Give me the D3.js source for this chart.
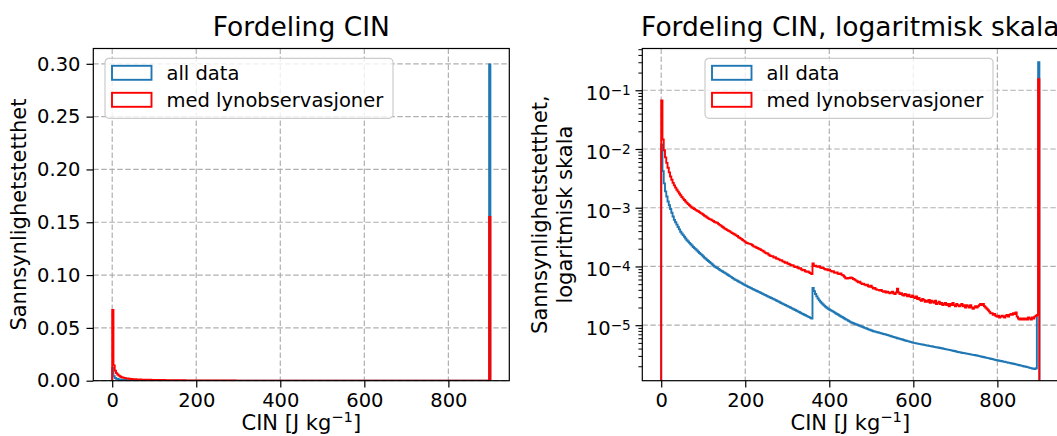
<!DOCTYPE html>
<html>
<head>
<meta charset="utf-8">
<script src="https://cdn.jsdelivr.net/npm/d3@7"></script>
<style>
  body { margin: 0; background: #fff; }
  svg { display: block; }
  text { font-family: "DejaVu Sans", sans-serif; fill: #000; }
</style>
</head>
<body>
<svg width="1057" height="436"></svg>
<script>

// Histogram bins: width 3 J/kg, from 0 to 900
var binWidth = 3;

// density, all data (one value per bin)
var allData = [
  1.2e-2, 4.2e-3, 2.6e-3, 1.9e-3, 1.55e-3, 1.28e-3, 1.1e-3, 9.5e-4, 8.2e-4, 7.1e-4,
  6.2e-4, 5.65e-4, 5.15e-4, 4.7e-4, 4.28e-4, 3.9e-4, 3.65e-4, 3.42e-4, 3.2e-4, 2.99e-4,
  2.8e-4, 2.66e-4, 2.52e-4, 2.39e-4, 2.27e-4, 2.15e-4, 2.05e-4, 1.96e-4, 1.87e-4, 1.78e-4,
  1.7e-4, 1.62e-4, 1.55e-4, 1.48e-4, 1.41e-4, 1.35e-4, 1.29e-4, 1.24e-4, 1.19e-4, 1.14e-4,
  1.09e-4, 1.04e-4, 1.0e-4, 9.7e-5, 9.4e-5, 9.1e-5, 8.8e-5, 8.5e-5, 8.3e-5, 8.0e-5,
  7.8e-5, 7.55e-5, 7.3e-5, 7.1e-5, 6.85e-5, 6.65e-5, 6.4e-5, 6.2e-5, 6.0e-5, 5.85e-5,
  5.7e-5, 5.55e-5, 5.4e-5, 5.25e-5, 5.1e-5, 4.95e-5, 4.82e-5, 4.7e-5, 4.58e-5, 4.47e-5,
  4.37e-5, 4.26e-5, 4.16e-5, 4.06e-5, 3.96e-5, 3.87e-5, 3.78e-5, 3.69e-5, 3.6e-5, 3.51e-5,
  3.43e-5, 3.35e-5, 3.27e-5, 3.19e-5, 3.11e-5, 3.04e-5, 2.97e-5, 2.9e-5, 2.83e-5, 2.76e-5,
  2.7e-5, 2.63e-5, 2.57e-5, 2.5e-5, 2.44e-5, 2.38e-5, 2.32e-5, 2.26e-5, 2.21e-5, 2.15e-5,
  2.1e-5, 2.05e-5, 2.0e-5, 1.95e-5, 1.9e-5, 1.85e-5, 1.81e-5, 1.76e-5, 1.72e-5, 1.68e-5,
  1.63e-5, 1.59e-5, 1.55e-5, 1.51e-5, 1.48e-5, 1.44e-5, 1.4e-5, 1.37e-5, 1.33e-5, 1.3e-5,
  4.3e-5, 3.8e-5, 3.4e-5, 3.1e-5, 2.85e-5, 2.65e-5, 2.5e-5, 2.37e-5, 2.25e-5, 2.15e-5,
  2.06e-5, 1.98e-5, 1.91e-5, 1.85e-5, 1.8e-5, 1.75e-5, 1.7e-5, 1.65e-5, 1.6e-5, 1.55e-5,
  1.51e-5, 1.46e-5, 1.42e-5, 1.38e-5, 1.34e-5, 1.3e-5, 1.26e-5, 1.23e-5, 1.19e-5, 1.16e-5,
  1.12e-5, 1.1e-5, 1.08e-5, 1.06e-5, 1.04e-5, 1.02e-5, 1.0e-5, 9.8e-6, 9.6e-6, 9.4e-6,
  9.2e-6, 9.0e-6, 8.85e-6, 8.7e-6, 8.5e-6, 8.35e-6, 8.2e-6, 8.05e-6, 7.9e-6, 7.8e-6,
  7.7e-6, 7.6e-6, 7.5e-6, 7.4e-6, 7.3e-6, 7.2e-6, 7.1e-6, 7.0e-6, 6.9e-6, 6.8e-6,
  6.7e-6, 6.6e-6, 6.5e-6, 6.4e-6, 6.3e-6, 6.2e-6, 6.1e-6, 6.0e-6, 5.95e-6, 5.85e-6,
  5.75e-6, 5.7e-6, 5.6e-6, 5.5e-6, 5.45e-6, 5.35e-6, 5.3e-6, 5.2e-6, 5.15e-6, 5.05e-6,
  5.0e-6, 4.95e-6, 4.9e-6, 4.85e-6, 4.8e-6, 4.76e-6, 4.72e-6, 4.68e-6, 4.63e-6, 4.58e-6,
  4.54e-6, 4.5e-6, 4.45e-6, 4.41e-6, 4.37e-6, 4.33e-6, 4.28e-6, 4.24e-6, 4.2e-6, 4.16e-6,
  4.12e-6, 4.08e-6, 4.04e-6, 4.0e-6, 3.96e-6, 3.92e-6, 3.88e-6, 3.84e-6, 3.8e-6, 3.76e-6,
  3.72e-6, 3.68e-6, 3.64e-6, 3.6e-6, 3.55e-6, 3.5e-6, 3.47e-6, 3.44e-6, 3.4e-6, 3.37e-6,
  3.34e-6, 3.31e-6, 3.28e-6, 3.25e-6, 3.22e-6, 3.19e-6, 3.16e-6, 3.13e-6, 3.1e-6, 3.07e-6,
  3.04e-6, 3.0e-6, 2.97e-6, 2.94e-6, 2.91e-6, 2.88e-6, 2.84e-6, 2.81e-6, 2.78e-6, 2.75e-6,
  2.72e-6, 2.68e-6, 2.65e-6, 2.62e-6, 2.59e-6, 2.56e-6, 2.53e-6, 2.5e-6, 2.48e-6, 2.45e-6,
  2.43e-6, 2.4e-6, 2.38e-6, 2.35e-6, 2.33e-6, 2.3e-6, 2.28e-6, 2.25e-6, 2.23e-6, 2.2e-6,
  2.18e-6, 2.15e-6, 2.13e-6, 2.1e-6, 2.08e-6, 2.05e-6, 2.03e-6, 2.0e-6, 1.98e-6, 1.96e-6,
  1.93e-6, 1.91e-6, 1.88e-6, 1.86e-6, 1.83e-6, 1.81e-6, 1.8e-6, 1.85e-6, 1.5e-5, 0.2995
];

// density, cases with lightning observations
var medLyn = [
  0.067, 1.45e-2, 9.5e-3, 7.2e-3, 5.8e-3, 4.8e-3, 4.0e-3, 3.4e-3, 3.0e-3, 2.65e-3,
  2.4e-3, 2.2e-3, 2.02e-3, 1.88e-3, 1.75e-3, 1.63e-3, 1.52e-3, 1.43e-3, 1.35e-3, 1.28e-3,
  1.21e-3, 1.15e-3, 1.1e-3, 1.05e-3, 1.01e-3, 9.8e-4, 9.5e-4, 9.2e-4, 8.9e-4, 8.7e-4,
  8.4e-4, 8.1e-4, 7.9e-4, 7.6e-4, 7.3e-4, 7.1e-4, 6.8e-4, 6.6e-4, 6.4e-4, 6.3e-4,
  6.1e-4, 5.95e-4, 5.7e-4, 5.6e-4, 5.55e-4, 5.3e-4, 5.1e-4, 4.95e-4, 4.75e-4, 4.6e-4,
  4.4e-4, 4.3e-4, 4.15e-4, 4.05e-4, 3.95e-4, 3.8e-4, 3.7e-4, 3.6e-4, 3.5e-4, 3.38e-4,
  3.3e-4, 3.15e-4, 3.05e-4, 2.95e-4, 2.85e-4, 2.75e-4, 2.65e-4, 2.55e-4, 2.5e-4, 2.45e-4,
  2.42e-4, 2.38e-4, 2.3e-4, 2.2e-4, 2.16e-4, 2.1e-4, 2.06e-4, 2.0e-4, 1.96e-4, 1.9e-4,
  1.86e-4, 1.8e-4, 1.72e-4, 1.68e-4, 1.66e-4, 1.58e-4, 1.52e-4, 1.5e-4, 1.49e-4, 1.42e-4,
  1.44e-4, 1.37e-4, 1.35e-4, 1.32e-4, 1.27e-4, 1.28e-4, 1.22e-4, 1.2e-4, 1.16e-4, 1.17e-4,
  1.12e-4, 1.1e-4, 1.07e-4, 1.05e-4, 1.05e-4, 1.0e-4, 9.8e-5, 9.9e-5, 9.5e-5, 9.2e-5,
  9.3e-5, 8.9e-5, 8.6e-5, 8.7e-5, 8.3e-5, 8.1e-5, 8.2e-5, 7.9e-5, 7.7e-5, 7.4e-5,
  1.12e-4, 1.02e-4, 1.03e-4, 1.0e-4, 9.9e-5, 1.01e-4, 9.6e-5, 9.4e-5, 9.5e-5, 9.1e-5,
  8.9e-5, 9.0e-5, 8.6e-5, 8.8e-5, 8.4e-5, 8.2e-5, 8.3e-5, 7.9e-5, 7.8e-5, 7.9e-5,
  7.5e-5, 7.4e-5, 7.6e-5, 7.2e-5, 7.0e-5, 6.7e-5, 6.3e-5, 6.2e-5, 6.4e-5, 6.3e-5,
  6.5e-5, 6.4e-5, 6.1e-5, 6.0e-5, 5.8e-5, 5.6e-5, 5.4e-5, 5.5e-5, 5.2e-5, 5.0e-5,
  5.1e-5, 4.9e-5, 4.8e-5, 4.9e-5, 4.6e-5, 4.5e-5, 4.7e-5, 4.4e-5, 4.2e-5, 4.3e-5,
  4.1e-5, 4.0e-5, 4.0e-5, 3.9e-5, 4.0e-5, 3.8e-5, 3.7e-5, 3.8e-5, 3.6e-5, 3.7e-5,
  3.6e-5, 3.5e-5, 3.6e-5, 3.7e-5, 3.5e-5, 3.4e-5, 3.6e-5, 4.2e-5, 3.6e-5, 3.4e-5,
  3.5e-5, 3.3e-5, 3.2e-5, 3.4e-5, 3.3e-5, 3.1e-5, 3.3e-5, 3.1e-5, 3.0e-5, 3.2e-5,
  3.0e-5, 2.9e-5, 3.1e-5, 2.8e-5, 2.9e-5, 2.7e-5, 2.6e-5, 2.8e-5, 2.7e-5, 2.5e-5,
  2.6e-5, 2.5e-5, 2.7e-5, 2.4e-5, 2.6e-5, 2.5e-5, 2.4e-5, 2.6e-5, 2.3e-5, 2.4e-5,
  2.5e-5, 2.3e-5, 2.4e-5, 2.2e-5, 2.3e-5, 2.4e-5, 2.2e-5, 2.3e-5, 2.1e-5, 2.3e-5,
  2.2e-5, 2.4e-5, 2.2e-5, 2.1e-5, 2.3e-5, 2.2e-5, 2.1e-5, 2.2e-5, 2.3e-5, 2.1e-5,
  2.2e-5, 2.0e-5, 2.2e-5, 2.1e-5, 2.0e-5, 2.2e-5, 2.0e-5, 1.9e-5, 2.0e-5, 2.1e-5,
  2.0e-5, 2.1e-5, 2.2e-5, 2.3e-5, 2.2e-5, 2.3e-5, 2.1e-5, 2.0e-5, 1.9e-5, 1.8e-5,
  1.7e-5, 1.6e-5, 1.6e-5, 1.5e-5, 1.55e-5, 1.45e-5, 1.4e-5, 1.45e-5, 1.35e-5, 1.4e-5,
  1.45e-5, 1.4e-5, 1.35e-5, 1.45e-5, 1.5e-5, 1.4e-5, 1.5e-5, 1.55e-5, 1.5e-5, 1.6e-5,
  1.55e-5, 1.65e-5, 1.4e-5, 1.3e-5, 1.25e-5, 1.3e-5, 1.25e-5, 1.3e-5, 1.25e-5, 1.3e-5,
  1.25e-5, 1.35e-5, 1.3e-5, 1.25e-5, 1.35e-5, 1.3e-5, 1.4e-5, 1.45e-5, 1.5e-5, 0.155
];

var xTicks = [0, 200, 400, 600, 800];
var linTicks = [0, 0.05, 0.10, 0.15, 0.20, 0.25, 0.30];
var logTicks = [1e-5, 1e-4, 1e-3, 1e-2, 1e-1];
var logExponents = ["−5", "−4", "−3", "−2", "−1"];
var legendLabels = ["all data", "med lynobservasjoner"];
var colors = ["#1f77b4", "#ff0000"];

var xDomain = [-45, 945];
var linDomain = [0, 0.3145];
var logDomain = [1.135e-6, 0.514];

var svg = d3.select("svg");
var plotTop = 48.5, plotBottom = 380.7;
var tickFont = 19.5, labelFont = 21, titleFont = 26.5;

// outline of a step histogram: up from the base, along the bins, down again
function stepPoints(vals) {
  var pts = [[0, null]];
  vals.forEach(function (v, i) {
    pts.push([i * binWidth, v]);
    pts.push([(i + 1) * binWidth, v]);
  });
  pts.push([vals.length * binWidth, null]);
  return pts;
}

function drawPanel(p) {
  var x = d3.scaleLinear().domain(xDomain).range([p.left, p.right]);
  var y = p.log
    ? d3.scaleLog().domain(logDomain).range([plotBottom, plotTop])
    : d3.scaleLinear().domain(linDomain).range([plotBottom, plotTop]);
  var yTicks = p.log ? logTicks : linTicks;
  var g = svg.append("g");

  var clipId = "clip" + p.id;
  svg.append("clipPath").attr("id", clipId).append("rect")
    .attr("x", p.left).attr("y", plotTop)
    .attr("width", p.right - p.left).attr("height", plotBottom - plotTop);

  // grid
  var grid = g.append("g").attr("stroke", "#b0b0b0").attr("stroke-width", 1.2)
    .attr("stroke-dasharray", "5.5,2.5");
  grid.selectAll(".gx").data(xTicks).enter().append("line")
    .attr("x1", d => x(d)).attr("x2", d => x(d))
    .attr("y1", plotTop).attr("y2", plotBottom);
  grid.selectAll(".gy").data(yTicks).enter().append("line")
    .attr("x1", p.left).attr("x2", p.right)
    .attr("y1", d => y(d)).attr("y2", d => y(d));

  // histograms
  var line = d3.line()
    .x(d => x(d[0]))
    .y(d => d[1] === null ? (p.log ? plotBottom + 20 : y(0)) : y(d[1]));
  [allData, medLyn].forEach(function (vals, k) {
    g.append("path")
      .attr("d", line(stepPoints(vals)))
      .attr("fill", "none")
      .attr("stroke", colors[k])
      .attr("stroke-width", 1.9)
      .attr("clip-path", "url(#" + clipId + ")");
  });

  // x axis
  var ax = g.append("g").attr("transform", "translate(0," + plotBottom + ")")
    .call(d3.axisBottom(x).tickValues(xTicks).tickSize(6.8).tickPadding(6).tickFormat(d3.format("d")));
  ax.select(".domain").remove();
  ax.attr("font-size", tickFont).attr("font-family", "DejaVu Sans");
  ax.selectAll("line").attr("stroke", "#000").attr("stroke-width", 1.2);
  ax.selectAll("text").attr("fill", "#000");

  // y axis
  var ay = g.append("g").attr("transform", "translate(" + p.left + ",0)");
  if (!p.log) {
    ay.call(d3.axisLeft(y).tickValues(linTicks).tickSize(6.8).tickPadding(6).tickFormat(d3.format(".2f")));
    ay.attr("font-size", tickFont).attr("font-family", "DejaVu Sans");
    ay.selectAll("text").attr("fill", "#000");
  } else {
    ay.call(d3.axisLeft(y).tickValues(logTicks).tickSize(6.8).tickFormat(""));
    var minor = [];
    for (var e = -7; e <= 0; e++) {
      for (var m = 2; m <= 9; m++) {
        var v = m * Math.pow(10, e);
        if (v > logDomain[0] && v < logDomain[1]) minor.push(v);
      }
    }
    var amin = g.append("g").attr("transform", "translate(" + p.left + ",0)")
      .call(d3.axisLeft(y).tickValues(minor).tickSize(3.9).tickFormat(""));
    amin.select(".domain").remove();
    amin.selectAll("line").attr("stroke", "#000").attr("stroke-width", 1);
    logTicks.forEach(function (t, i) {
      var tx = g.append("text")
        .attr("x", p.left - 11.5).attr("y", y(t) + 10)
        .attr("text-anchor", "end").attr("font-size", tickFont);
      tx.append("tspan").text("10");
      tx.append("tspan").attr("font-size", tickFont * 0.7).attr("dy", -5).text(logExponents[i]);
    });
  }
  ay.select(".domain").remove();
  ay.selectAll("line").attr("stroke", "#000").attr("stroke-width", 1.2);

  // frame
  g.append("rect")
    .attr("x", p.left).attr("y", plotTop)
    .attr("width", p.right - p.left).attr("height", plotBottom - plotTop)
    .attr("fill", "none").attr("stroke", "#000").attr("stroke-width", 1.2);

  // legend
  var lg = g.append("g").attr("transform", "translate(" + p.legendX + ",58.3)");
  lg.append("rect").attr("width", 288).attr("height", 60).attr("rx", 4)
    .attr("fill", "#fff").attr("fill-opacity", 0.8)
    .attr("stroke", "#cccccc").attr("stroke-width", 1.2);
  legendLabels.forEach(function (lab, i) {
    lg.append("rect")
      .attr("x", 7).attr("y", 7.5 + i * 27).attr("width", 39.5).attr("height", 14)
      .attr("fill", "none").attr("stroke", colors[i]).attr("stroke-width", 1.9);
    lg.append("text").attr("x", 61.5).attr("y", 21.5 + i * 27)
      .attr("font-size", tickFont).text(lab);
  });

  var cx = (p.left + p.right) / 2;

  // title
  g.append("text").attr("x", cx).attr("y", 36).attr("text-anchor", "middle")
    .attr("font-size", titleFont).text(p.title);

  // x label
  var xl = g.append("text").attr("x", cx).attr("y", 430).attr("text-anchor", "middle")
    .attr("font-size", labelFont);
  xl.append("tspan").text("CIN [J kg");
  xl.append("tspan").attr("font-size", labelFont * 0.7).attr("dy", -8).text("−1");
  xl.append("tspan").attr("dy", 8).text("]");

  // y label
  var cy = (plotTop + plotBottom) / 2;
  p.yLabel.forEach(function (t, i) {
    g.append("text")
      .attr("transform", "translate(" + p.yLabelX[i] + "," + cy + ") rotate(-90)")
      .attr("text-anchor", "middle").attr("font-size", labelFont).text(t);
  });
}

drawPanel({
  id: "lin", log: false, left: 93.3, right: 509.3, legendX: 105,
  title: "Fordeling CIN",
  yLabel: ["Sannsynlighetstetthet"], yLabelX: [26]
});

drawPanel({
  id: "log", log: true, left: 642.3, right: 1058.3, legendX: 705,
  title: "Fordeling CIN, logaritmisk skala",
  yLabel: ["Sannsynlighetstetthet,", "logaritmisk skala"], yLabelX: [547, 572]
});

</script>
</body>
</html>
